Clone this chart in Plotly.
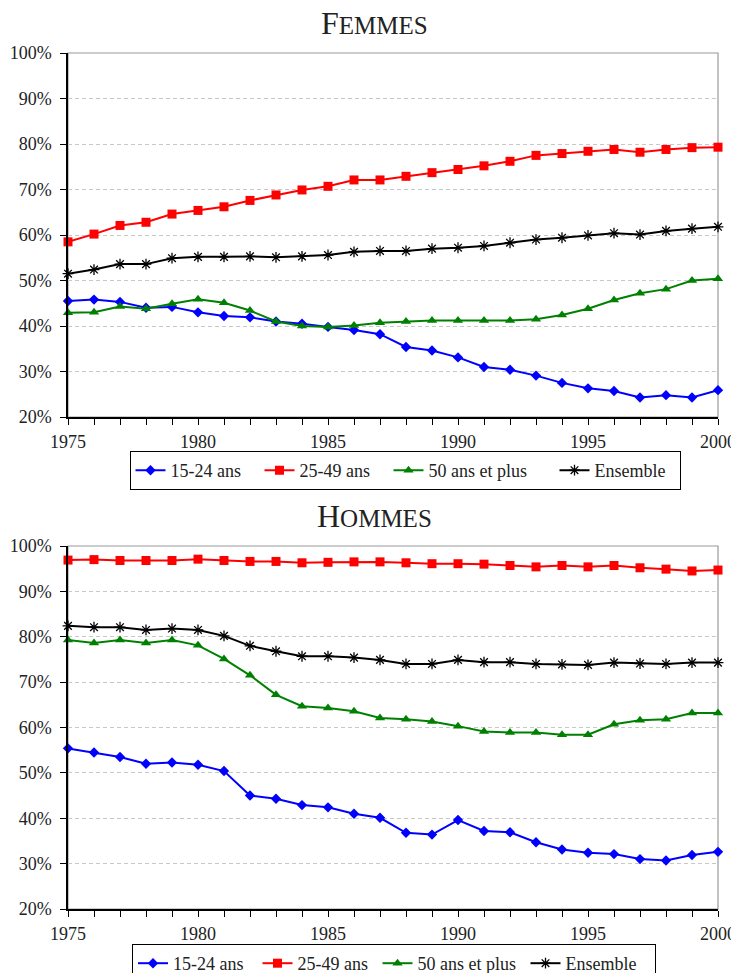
import plotly.graph_objects as go

years = list(range(1975, 2001))

femmes_15_24 = [45.5, 45.8, 45.3, 44.0, 44.2, 43.0, 42.2, 41.9, 41.0, 40.5, 39.8, 39.1, 38.2,
                35.4, 34.6, 33.1, 31.0, 30.4, 29.1, 27.5, 26.3, 25.7, 24.3, 24.8, 24.3, 25.9]
femmes_25_49 = [58.5, 60.2, 62.1, 62.8, 64.6, 65.4, 66.2, 67.6, 68.8, 69.9, 70.7, 72.1, 72.1,
                72.9, 73.7, 74.4, 75.2, 76.2, 77.5, 77.9, 78.4, 78.8, 78.2, 78.8, 79.2, 79.3]
femmes_50_plus = [42.9, 43.0, 44.3, 43.8, 44.9, 45.9, 45.1, 43.4, 41.0, 40.0, 39.8, 40.1, 40.7,
                  41.0, 41.2, 41.2, 41.2, 41.2, 41.5, 42.4, 43.8, 45.7, 47.2, 48.1, 50.0, 50.4]
femmes_ensemble = [51.5, 52.4, 53.6, 53.6, 54.9, 55.2, 55.2, 55.3, 55.1, 55.3, 55.6, 56.3, 56.5,
                   56.5, 57.0, 57.2, 57.6, 58.3, 59.0, 59.4, 59.9, 60.4, 60.1, 60.9, 61.4, 61.8]

hommes_15_24 = [55.4, 54.5, 53.5, 52.0, 52.3, 51.8, 50.4, 45.0, 44.3, 42.9, 42.4, 41.0, 40.1,
                36.8, 36.4, 39.6, 37.2, 36.9, 34.7, 33.1, 32.4, 32.1, 31.0, 30.7, 31.9, 32.6]
hommes_25_49 = [96.9, 97.0, 96.8, 96.8, 96.8, 97.1, 96.8, 96.6, 96.6, 96.3, 96.4, 96.5, 96.5,
                96.3, 96.1, 96.1, 96.0, 95.7, 95.4, 95.7, 95.4, 95.7, 95.2, 94.9, 94.5, 94.7]
hommes_50_plus = [79.3, 78.6, 79.3, 78.6, 79.3, 78.1, 75.1, 71.5, 67.2, 64.7, 64.3, 63.6, 62.1,
                  61.8, 61.3, 60.3, 59.1, 58.9, 58.9, 58.4, 58.4, 60.7, 61.6, 61.8, 63.2, 63.2]
hommes_ensemble = [82.4, 82.1, 82.1, 81.5, 81.8, 81.5, 80.2, 78.0, 76.8, 75.7, 75.7, 75.4, 74.9,
                   74.0, 74.0, 74.9, 74.4, 74.4, 74.0, 73.9, 73.8, 74.3, 74.1, 74.0, 74.3, 74.3]

series_names = ["15-24 ans", "25-49 ans", "50 ans et plus", "Ensemble"]
year_ticks = [1975, 1980, 1985, 1990, 1995, 2000]
colors = ["#0000FF", "#FF0000", "#008000", "#000000"]
symbols = ["diamond", "square", "triangle-up", "asterisk-open"]
msizes = [8, 9, 9, 9]

# page body has an 8px margin: draw the figure at 731x965 and convert page pixels
OFF = 8
W, H = 739 - OFF, 973 - OFF
FONT = "Liberation Serif"
NB = "\u00a0"

def px_x(p):
    return (p - OFF) / W

def px_y(p):
    return 1 - (p - OFF) / H

fig = go.Figure()

panels = [
    ("x", "y", "legend", [femmes_15_24, femmes_25_49, femmes_50_plus, femmes_ensemble], [3, 3, 5, 2]),
    ("x2", "y2", "legend2", [hommes_15_24, hommes_25_49, hommes_50_plus, hommes_ensemble], [2, 1, 1, 3]),
]

for xa, ya, leg, data, pads in panels:
    for name, vals, c, s, ms, pd_ in zip(series_names, data, colors, symbols, msizes, pads):
        mk = dict(symbol=s, size=ms, color=c)
        if s == "asterisk-open":
            mk["line"] = dict(color=c, width=1.3)
        fig.add_trace(go.Scatter(
            x=years, y=vals, name=name + NB * pd_, mode="lines+markers",
            line=dict(color=c, width=2), marker=mk,
            xaxis=xa, yaxis=ya, legend=leg, cliponaxis=False,
        ))

x_dom = [px_x(68), px_x(718)]
top_dom = [px_y(417), px_y(53)]
bot_dom = [px_y(909), px_y(546)]

xaxis_common = dict(
    range=[years[0], years[-1]], tickvals=year_ticks,
    ticks="outside", ticklen=6, tickcolor="#000", tickwidth=1,
    minor=dict(dtick=1, tick0=years[0], ticks="outside", ticklen=6, tickcolor="#000", tickwidth=1, showgrid=False),
    showline=True, linecolor="#000", linewidth=1.5, showgrid=False, zeroline=False,
    tickfont=dict(family=FONT, size=18, color="#222"), domain=x_dom, fixedrange=True,
    automargin=False, ticklabelstandoff=2,
)
yaxis_common = dict(
    range=[20, 100], dtick=10, ticksuffix="%",
    ticks="outside", ticklen=6, tickcolor="#000", tickwidth=1,
    showline=True, linecolor="#000", linewidth=1.5,
    showgrid=True, gridcolor="#c8c8c8", griddash="4px,3px", gridwidth=1, zeroline=False,
    tickfont=dict(family=FONT, size=18, color="#222"), automargin=False,
    ticklabelstandoff=5,
)

legend_common = dict(
    orientation="h", xanchor="center", yanchor="top",
    bordercolor="#000", borderwidth=1, bgcolor="white",
    font=dict(family=FONT, size=18, color="#222"), itemwidth=30,
    tracegroupgap=0,
)

fig.update_layout(
    width=W, height=H,
    margin=dict(l=0, r=0, t=0, b=0, autoexpand=False),
    paper_bgcolor="white", plot_bgcolor="white",
    font=dict(family=FONT, color="#222"),
    xaxis=dict(xaxis_common, anchor="y"),
    yaxis=dict(yaxis_common, domain=top_dom, anchor="x"),
    xaxis2=dict(xaxis_common, anchor="y2"),
    yaxis2=dict(yaxis_common, domain=bot_dom, anchor="x2"),
    legend=dict(legend_common, x=px_x(405), y=px_y(451)),
    legend2=dict(legend_common, x=px_x(394), y=px_y(944)),
    showlegend=True,
)

# grey frame (top and right edges)
for xr, yr in [("x", "y"), ("x2", "y2")]:
    fig.add_shape(type="rect", xref=f"{xr} domain", yref=f"{yr} domain",
                  x0=0, x1=1, y0=0, y1=1, line=dict(color="#9a9a9a", width=1.2),
                  layer="below")

# titles in small caps
fig.add_annotation(x=px_x(374), y=px_y(23), xref="paper", yref="paper",
                   text="F<span style='font-size:25px'>EMMES</span>", showarrow=False,
                   font=dict(family=FONT, size=32, color="#222"), xanchor="center", yanchor="middle")
fig.add_annotation(x=px_x(374), y=px_y(516), xref="paper", yref="paper",
                   text="H<span style='font-size:25px'>OMMES</span>", showarrow=False,
                   font=dict(family=FONT, size=32, color="#222"), xanchor="center", yanchor="middle")

fig.write_html("out.html")
